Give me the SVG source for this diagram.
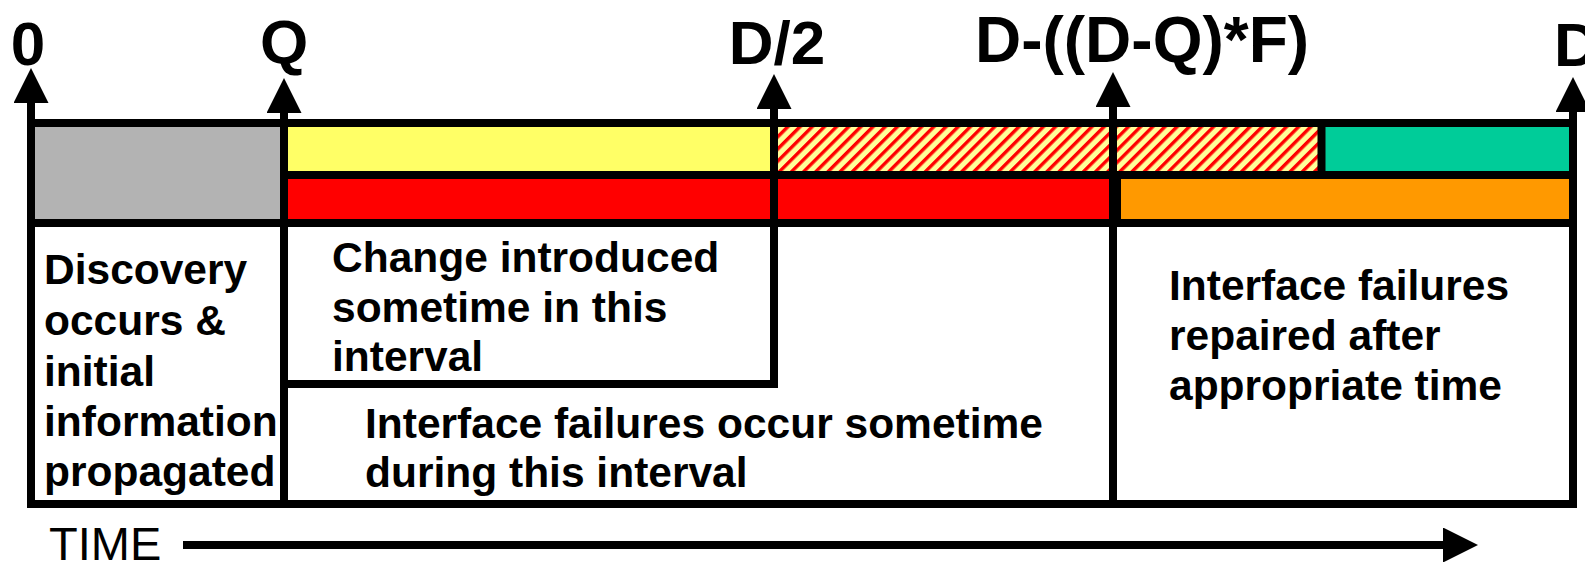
<svg xmlns="http://www.w3.org/2000/svg" width="1585" height="562" viewBox="0 0 1585 562">
  <style>
    .lbl { font-family: "Liberation Sans", Arial, sans-serif; font-weight: bold; font-size: 62px; fill: #000; }
    .txt { font-family: "Liberation Sans", Arial, sans-serif; font-weight: bold; font-size: 42.5px; fill: #000; }
    .time { font-family: "Liberation Sans", Arial, sans-serif; font-size: 47px; fill: #000; }
    .rule { stroke: #000; stroke-width: 8; fill: none; }
    .axis { stroke: #000; stroke-width: 8; fill: none; marker-end: url(#head); }
  </style>
  <defs>
    <marker id="head" markerUnits="userSpaceOnUse" markerWidth="35" markerHeight="35" viewBox="0 0 35 35" refX="1" refY="17.5" orient="auto">
      <path d="M0,0 L35,17.5 L0,35 Z" fill="#000"/>
    </marker>
    <pattern id="hatch" patternUnits="userSpaceOnUse" width="8.6" height="8.6" patternTransform="rotate(45)">
      <rect width="8.6" height="8.6" fill="#FFFF99"/>
      <rect width="3.4" height="8.6" fill="#FF0000"/>
    </pattern>
  </defs>

  <rect width="1585" height="562" fill="#fff"/>

  <!-- status band: coloured intervals -->
  <g id="band">
    <rect x="31" y="127" width="252" height="92" fill="#B3B3B3"/>
    <rect x="284" y="127" width="490" height="48" fill="#FFFF66"/>
    <rect x="774" y="127" width="548" height="48" fill="url(#hatch)"/>
    <rect x="1322" y="127" width="251" height="48" fill="#00CC99"/>
    <rect x="284" y="175" width="829" height="44" fill="#FF0000"/>
    <rect x="1113" y="175" width="460" height="44" fill="#FF9900"/>
    <line class="rule" x1="27" y1="123" x2="1577" y2="123"/>
    <line class="rule" x1="284" y1="175" x2="1573" y2="175"/>
    <line class="rule" x1="27" y1="223" x2="1577" y2="223"/>
    <line class="rule" x1="1321.5" y1="123" x2="1321.5" y2="175"/>
    <line class="rule" x1="1117" y1="175" x2="1117" y2="219" stroke-width="6"/>
  </g>

  <!-- lower frame -->
  <g id="frame">
    <line class="rule" x1="27" y1="504" x2="1577" y2="504"/>
    <line class="rule" x1="284" y1="384" x2="778" y2="384"/>
  </g>

  <!-- time axes with arrowheads -->
  <g id="connectors">
    <line class="axis" x1="31" y1="508" x2="31" y2="102"/>
    <line class="axis" x1="284" y1="508" x2="284" y2="112"/>
    <line class="axis" x1="774" y1="388" x2="774" y2="108"/>
    <line class="axis" x1="1113" y1="508" x2="1113" y2="106"/>
    <line class="axis" x1="1573" y1="508" x2="1573" y2="111"/>
    <line class="axis" x1="183" y1="545" x2="1444" y2="545"/>
  </g>

  <!-- axis labels -->
  <g id="label-0"><text class="lbl" x="28" y="65" text-anchor="middle">0</text></g>
  <g id="label-q"><text class="lbl" x="284" y="63" text-anchor="middle">Q</text></g>
  <g id="label-d2"><text class="lbl" x="777" y="64" text-anchor="middle">D/2</text></g>
  <g id="label-dqf"><text class="lbl" x="1142" y="62" text-anchor="middle" style="font-size:64px">D-((D-Q)*F)</text></g>
  <g id="label-d"><text class="lbl" x="1554" y="66">D</text></g>

  <!-- interval descriptions -->
  <g id="discovery">
    <text class="txt" x="44" y="284">Discovery</text>
    <text class="txt" x="44" y="335">occurs &amp;</text>
    <text class="txt" x="44" y="386">initial</text>
    <text class="txt" x="44" y="436">information</text>
    <text class="txt" x="44" y="486">propagated</text>
  </g>
  <g id="change">
    <text class="txt" x="332" y="272">Change introduced</text>
    <text class="txt" x="332" y="322">sometime in this</text>
    <text class="txt" x="332" y="371">interval</text>
  </g>
  <g id="failures">
    <text class="txt" x="365" y="438">Interface failures occur sometime</text>
    <text class="txt" x="365" y="487">during this interval</text>
  </g>
  <g id="repair">
    <text class="txt" x="1169" y="300">Interface failures</text>
    <text class="txt" x="1169" y="350">repaired after</text>
    <text class="txt" x="1169" y="400">appropriate time</text>
  </g>
  <g id="time"><text class="time" x="49" y="560">TIME</text></g>
</svg>
